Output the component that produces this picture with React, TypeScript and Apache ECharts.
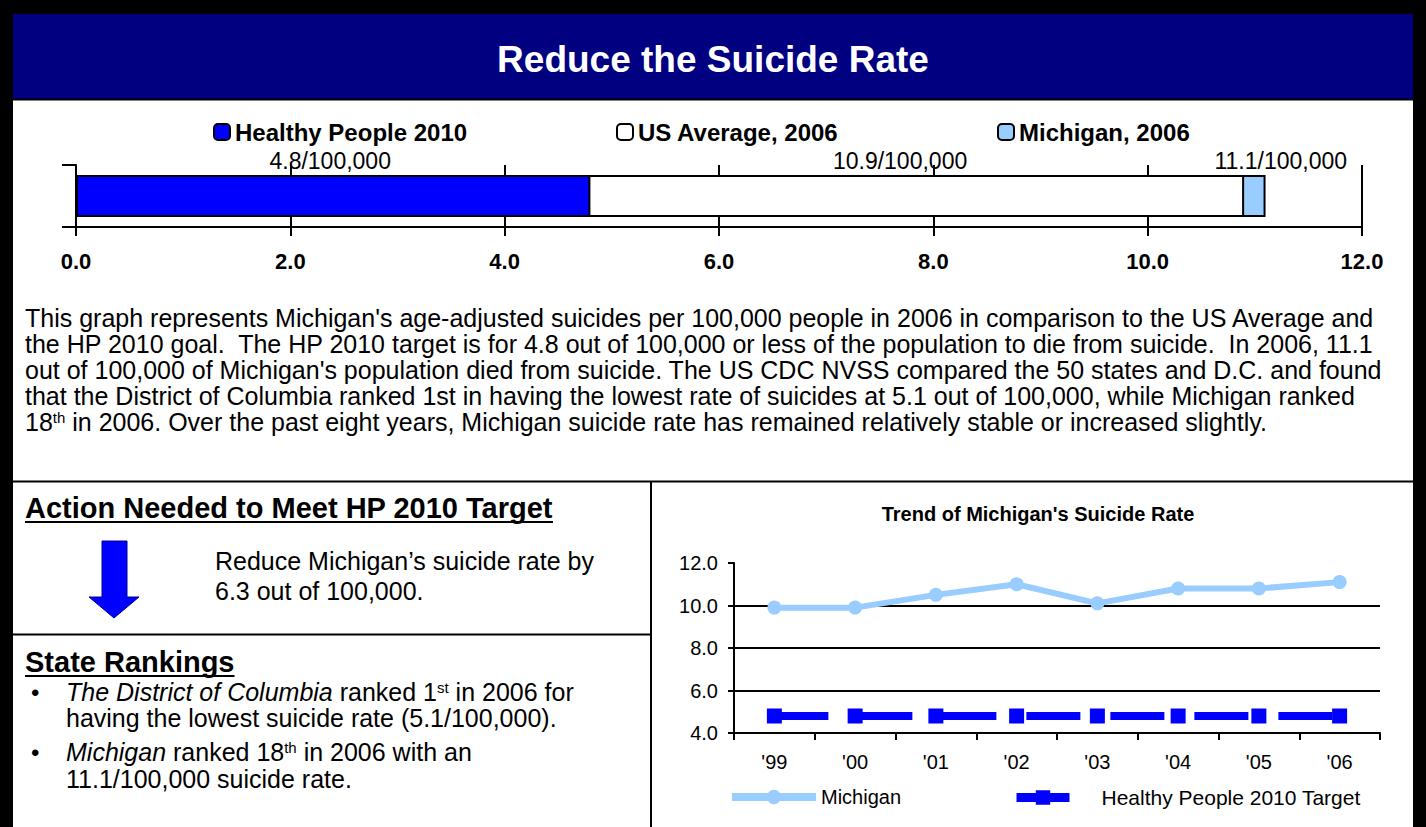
import React, { useEffect, useRef } from 'react';
import * as echarts from 'echarts';

const FONT = '"Liberation Sans", Arial, sans-serif';

// ---- Top bar chart data ----
const barCategories = ['2006'];
const hpTarget2010 = [4.8];
const usAverage2006 = [10.9];
const michigan2006 = [11.1];
const barAxisMin = 0;
const barAxisMax = 12;
const barAxisInterval = 2;

// ---- Trend chart data ----
const trendYears = ["'99", "'00", "'01", "'02", "'03", "'04", "'05", "'06"];
const michiganTrend = [9.9, 9.9, 10.5, 11.0, 10.1, 10.8, 10.8, 11.1];
const hpTargetTrend = [4.8, 4.8, 4.8, 4.8, 4.8, 4.8, 4.8, 4.8];
const trendAxisMin = 4;
const trendAxisMax = 12;
const trendAxisInterval = 2;

// ---- Texts ----
const pageTitle = 'Reduce the Suicide Rate';
const trendTitle = "Trend of Michigan's Suicide Rate";
const paragraphLines = [
  "This graph represents Michigan's age-adjusted suicides per 100,000 people in 2006 in comparison to the US Average and",
  'the HP 2010 goal.  The HP 2010 target is for 4.8 out of 100,000 or less of the population to die from suicide.  In 2006, 11.1',
  "out of 100,000 of Michigan's population died from suicide. The US CDC NVSS compared the 50 states and D.C. and found",
  'that the District of Columbia ranked 1st in having the lowest rate of suicides at 5.1 out of 100,000, while Michigan ranked',
  '18{sup|th} in 2006. Over the past eight years, Michigan suicide rate has remained relatively stable or increased slightly.',
];
const actionHeading = 'Action Needed to Meet HP 2010 Target';
const actionLines = ['Reduce Michigan\u2019s suicide rate by', '6.3 out of 100,000.'];
const rankingHeading = 'State Rankings';
const rankingLines = [
  '{it|The District of Columbia} ranked 1{sup|st} in 2006 for',
  'having the lowest suicide rate (5.1/100,000).',
  '{it|Michigan} ranked 18{sup|th} in 2006 with an',
  '11.1/100,000 suicide rate.',
];

function measure(text: string, font: string): number {
  const c = document.createElement('canvas').getContext('2d');
  if (!c) return text.length * 14;
  c.font = font;
  return c.measureText(text).width;
}

export default function App() {
  const ref = useRef<HTMLDivElement>(null);

  useEffect(() => {
    document.body.style.margin = '0';
    const chart = echarts.init(ref.current!, null, { renderer: 'svg', width: 1426, height: 827 });

    const headW1 = measure(actionHeading, `bold 29px ${FONT}`);
    const headW2 = measure(rankingHeading, `bold 29px ${FONT}`);

    const paraRich = {
      sup: { fontSize: 15, fontFamily: FONT, fill: '#000', verticalAlign: 'top', lineHeight: 13 },
    };
    const rankRich = {
      it: { fontSize: 25, fontFamily: FONT, fontStyle: 'italic', fill: '#000', lineHeight: 24 },
      sup: { fontSize: 15, fontFamily: FONT, fill: '#000', verticalAlign: 'top', lineHeight: 12 },
    };

    const graphic: any[] = [
      { type: 'rect', shape: { x: 0, y: 0, width: 1426, height: 827 }, style: { fill: '#000' }, silent: true },
      { type: 'rect', shape: { x: 13, y: 14, width: 1400, height: 813 }, style: { fill: '#fff' }, silent: true },
      { type: 'rect', shape: { x: 13, y: 14, width: 1400, height: 85 }, style: { fill: '#000080' }, silent: true },
      { type: 'line', shape: { x1: 13, y1: 99.5, x2: 1413, y2: 99.5 }, style: { stroke: '#000', lineWidth: 2 } },
      { type: 'line', shape: { x1: 13, y1: 481.5, x2: 1413, y2: 481.5 }, style: { stroke: '#000', lineWidth: 2 } },
      { type: 'line', shape: { x1: 651, y1: 481, x2: 651, y2: 827 }, style: { stroke: '#000', lineWidth: 2 } },
      { type: 'line', shape: { x1: 13, y1: 634.5, x2: 651, y2: 634.5 }, style: { stroke: '#000', lineWidth: 2 } },
    ];

    paragraphLines.forEach((t, i) => {
      graphic.push({
        type: 'text',
        x: 25,
        y: 318 + i * 26,
        style: {
          text: t,
          fontSize: 25,
          fontFamily: FONT,
          fill: '#000',
          verticalAlign: 'middle',
          lineHeight: 25,
          rich: paraRich,
        },
      });
    });

    // Action section
    graphic.push({
      type: 'text', x: 25, y: 508,
      style: { text: actionHeading, fontSize: 29, fontWeight: 'bold', fontFamily: FONT, fill: '#000', verticalAlign: 'middle' },
    });
    graphic.push({ type: 'line', shape: { x1: 25, y1: 522, x2: 25 + headW1, y2: 522 }, style: { stroke: '#000', lineWidth: 2 } });
    graphic.push({
      type: 'polygon',
      shape: { points: [[102, 541], [127, 541], [127, 597], [139, 597], [114, 618], [89, 597], [102, 597]] },
      style: { fill: '#0000FF', stroke: '#00009A', lineWidth: 1 },
    });
    actionLines.forEach((t, i) => {
      graphic.push({
        type: 'text', x: 215, y: 561 + i * 30,
        style: { text: t, fontSize: 25, fontFamily: FONT, fill: '#000', verticalAlign: 'middle' },
      });
    });

    // Rankings section
    graphic.push({
      type: 'text', x: 25, y: 662,
      style: { text: rankingHeading, fontSize: 29, fontWeight: 'bold', fontFamily: FONT, fill: '#000', verticalAlign: 'middle' },
    });
    graphic.push({ type: 'line', shape: { x1: 25, y1: 676, x2: 25 + headW2, y2: 676 }, style: { stroke: '#000', lineWidth: 2 } });
    const rankY = [692, 718, 752, 779];
    [0, 2].forEach((i) => {
      graphic.push({
        type: 'text', x: 31, y: rankY[i],
        style: { text: '\u2022', fontSize: 24, fontFamily: FONT, fill: '#000', verticalAlign: 'middle', lineHeight: 24 },
      });
    });
    rankingLines.forEach((t, i) => {
      graphic.push({
        type: 'text', x: 66, y: rankY[i],
        style: { text: t, fontSize: 25, fontFamily: FONT, fill: '#000', verticalAlign: 'middle', lineHeight: 24, rich: rankRich },
      });
    });

    const barLabel = (offsetX: number) => ({
      show: true,
      position: 'top',
      distance: 3,
      offset: [offsetX, 0],
      fontSize: 23,
      fontFamily: FONT,
      color: '#000',
      formatter: (p: any) => `${Number(p.value).toFixed(1)}/100,000`,
    });

    const legendBase = {
      padding: 0,
      itemGap: 0,
      selectedMode: false,
    };
    const barLegendText = { fontSize: 24, fontWeight: 'bold', color: '#000', fontFamily: FONT };

    const option: any = {
      animation: false,
      textStyle: { fontFamily: FONT },
      title: [
        {
          text: pageTitle,
          left: 'center',
          top: 36,
          textStyle: { color: '#fff', fontSize: 37, fontWeight: 'bold', fontFamily: FONT },
        },
        {
          text: trendTitle,
          left: 1033,
          top: 499,
          textAlign: 'center',
          textStyle: { color: '#000', fontSize: 20, fontWeight: 'bold', fontFamily: FONT },
        },
      ],
      graphic,
      legend: [
        { ...legendBase, data: ['Healthy People 2010'], left: 213, top: 120, itemWidth: 16, itemHeight: 16, textStyle: barLegendText },
        { ...legendBase, data: ['US Average, 2006'], left: 616, top: 120, itemWidth: 16, itemHeight: 16, textStyle: barLegendText },
        { ...legendBase, data: ['Michigan, 2006'], left: 997, top: 120, itemWidth: 16, itemHeight: 16, textStyle: barLegendText },
        { ...legendBase, data: ['Michigan'], left: 728, top: 787, itemWidth: 84, itemHeight: 18, lineStyle: { width: 8 }, textStyle: { fontSize: 20, color: '#000', fontFamily: FONT } },
        { ...legendBase, data: ['Healthy People 2010 Target'], left: 1012, top: 787, itemWidth: 53, itemHeight: 18, lineStyle: { width: 9 }, textStyle: { fontSize: 21, color: '#000', fontFamily: FONT, padding: [0, 0, 0, 27] } },
      ],
      grid: [
        { left: 76, top: 165, width: 1286, height: 62, show: false },
        { left: 734, top: 563, width: 646, height: 170, show: true, borderColor: '#808080', borderWidth: 2, backgroundColor: 'transparent' },
      ],
      xAxis: [
        {
          type: 'value',
          gridIndex: 0,
          min: barAxisMin,
          max: barAxisMax,
          interval: barAxisInterval,
          axisLine: { show: true, lineStyle: { color: '#000', width: 2 } },
          axisTick: { show: true, length: 9, lineStyle: { color: '#000', width: 2 } },
          axisLabel: { fontSize: 22, fontWeight: 'bold', color: '#000', margin: 23, fontFamily: FONT, formatter: (v: number) => v.toFixed(1) },
          splitLine: { show: true, lineStyle: { color: '#000', width: 2 } },
        },
        {
          type: 'category',
          gridIndex: 1,
          data: trendYears,
          boundaryGap: true,
          axisLine: { show: true, lineStyle: { color: '#000', width: 2 } },
          axisTick: { show: true, length: 7, lineStyle: { color: '#000', width: 2 } },
          axisLabel: { fontSize: 20, color: '#000', margin: 19, fontFamily: FONT },
          splitLine: { show: false },
        },
      ],
      yAxis: [
        {
          type: 'category',
          gridIndex: 0,
          data: barCategories,
          axisLine: { show: true, lineStyle: { color: '#000', width: 2 } },
          axisTick: { show: true, length: 14, lineStyle: { color: '#000', width: 2 } },
          axisLabel: { show: false },
          splitLine: { show: false },
        },
        {
          type: 'value',
          gridIndex: 1,
          min: trendAxisMin,
          max: trendAxisMax,
          interval: trendAxisInterval,
          axisLine: { show: true, lineStyle: { color: '#000', width: 2 } },
          axisTick: { show: true, length: 6, lineStyle: { color: '#000', width: 2 } },
          axisLabel: { fontSize: 20, color: '#000', margin: 16, fontFamily: FONT, formatter: (v: number) => v.toFixed(1) },
          splitLine: { show: true, showMinLine: false, showMaxLine: false, lineStyle: { color: '#000', width: 2 } },
        },
      ],
      series: [
        {
          name: 'Michigan, 2006',
          type: 'bar',
          xAxisIndex: 0,
          yAxisIndex: 0,
          data: michigan2006,
          barWidth: 42,
          barGap: '-100%',
          itemStyle: { color: '#99CCFF', borderColor: '#000', borderWidth: 2 },
          label: barLabel(610),
        },
        {
          name: 'US Average, 2006',
          type: 'bar',
          xAxisIndex: 0,
          yAxisIndex: 0,
          data: usAverage2006,
          barWidth: 42,
          barGap: '-100%',
          itemStyle: { color: '#FFFFFF', borderColor: '#000', borderWidth: 2 },
          label: barLabel(240),
        },
        {
          name: 'Healthy People 2010',
          type: 'bar',
          xAxisIndex: 0,
          yAxisIndex: 0,
          data: hpTarget2010,
          barWidth: 42,
          barGap: '-100%',
          itemStyle: { color: '#0000FF', borderColor: '#000', borderWidth: 2 },
          label: barLabel(-3),
        },
        {
          name: 'Michigan',
          type: 'line',
          xAxisIndex: 1,
          yAxisIndex: 1,
          data: michiganTrend,
          symbol: 'circle',
          symbolSize: 14,
          lineStyle: { color: '#99CCFF', width: 6 },
          itemStyle: { color: '#99CCFF' },
          z: 3,
        },
        {
          name: 'Healthy People 2010 Target',
          type: 'line',
          xAxisIndex: 1,
          yAxisIndex: 1,
          data: hpTargetTrend,
          symbol: 'rect',
          symbolSize: 15,
          lineStyle: { color: '#0000FF', width: 8, type: [54, 30] },
          itemStyle: { color: '#0000FF' },
          z: 3,
        },
      ],
    };

    chart.setOption(option);
    return () => chart.dispose();
  }, []);

  return <div ref={ref} style={{ width: 1426, height: 827, position: 'absolute', left: 0, top: 0 }} />;
}
